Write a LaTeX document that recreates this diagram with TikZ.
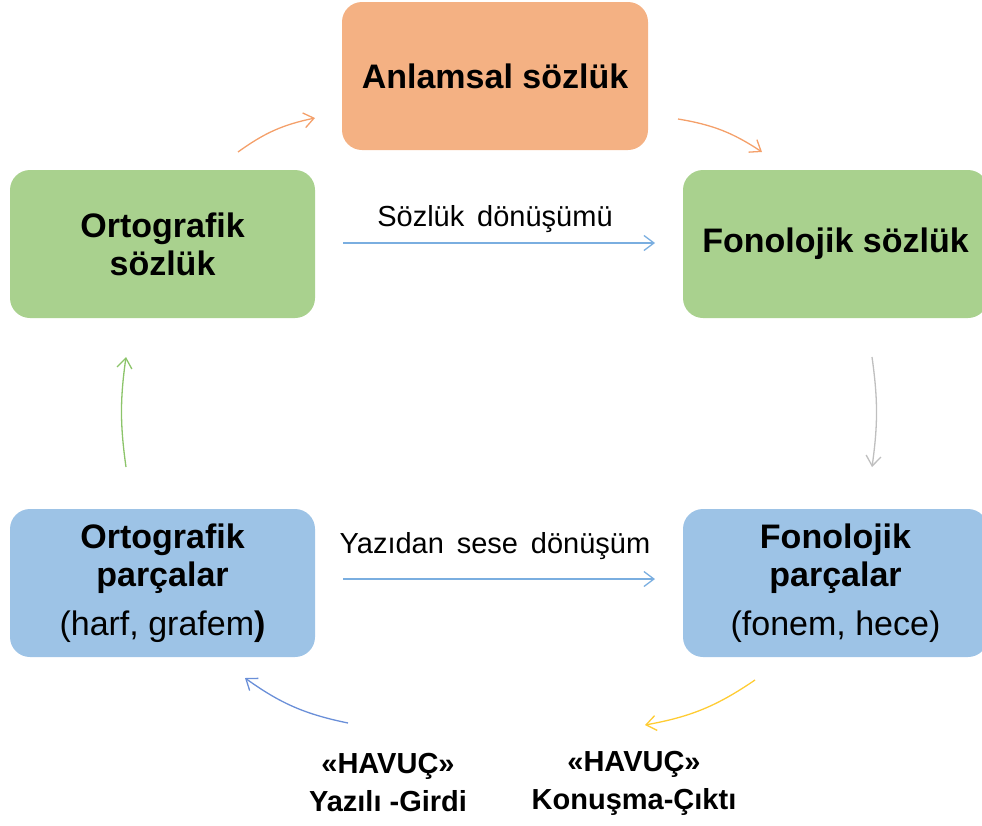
\documentclass[tikz,border=0pt]{standalone}
\usepackage{fontspec}
\setmainfont{Liberation Sans}
\usetikzlibrary{arrows.meta}
\definecolor{boxorange}{HTML}{F4B183}
\definecolor{boxgreen}{HTML}{A9D18E}
\definecolor{boxblue}{HTML}{9DC3E6}
\definecolor{arrorange}{HTML}{F4A06A}
\definecolor{arrlblue}{HTML}{7AAEE0}
\definecolor{arrgray}{HTML}{BFBFBF}
\definecolor{arrgreen}{HTML}{8CC46A}
\definecolor{arryellow}{HTML}{FFCC33}
\definecolor{arrdblue}{HTML}{6A8FD8}
\tikzset{
  box/.style={rectangle, rounded corners=20pt, minimum width=305pt, minimum height=148pt,
    align=center, inner sep=0pt, font=\fontsize{34}{38}\selectfont},
  conn/.style={line width=1.3pt, -{Straight Barb[length=10pt,width=15pt,line width=1.3pt]}},
  lab/.style={font=\fontsize{29}{34}\selectfont, inner sep=0pt},
  bot/.style={font=\fontsize{29}{38}\selectfont\bfseries, align=center, inner sep=0pt}
}
\begin{document}
\begin{tikzpicture}[x=1pt,y=-1pt]
\useasboundingbox (0,0) rectangle (982,825);
\clip (0,0) rectangle (982,825);
\node[box, fill=boxorange, minimum width=306pt] (anl) at (495,76) {\bfseries Anlamsal sözlük};
\node[box, fill=boxgreen] (os) at (162.5,244) {\bfseries Ortografik\\\bfseries sözlük};
\node[box, fill=boxgreen] (fs) at (835.5,244) {\bfseries Fonolojik sözlük};
\node[box, fill=boxblue] (op) at (162.5,583) {\bfseries Ortografik\\\bfseries parçalar\\[11pt](harf, grafem\textbf{)}};
\node[box, fill=boxblue] (fp) at (835.5,583) {\bfseries Fonolojik\\\bfseries parçalar\\[11pt](fonem, hece)};

\coordinate (a1s) at (238,152); \coordinate (a1e) at (315,118);
\coordinate (a2s) at (678,119); \coordinate (a2e) at (762,152);
\coordinate (a3s) at (872,357); \coordinate (a3e) at (872,467);
\coordinate (a4s) at (126,467); \coordinate (a4e) at (126,357);
\coordinate (a5s) at (755,680); \coordinate (a5e) at (645,725);
\coordinate (a6s) at (348,723); \coordinate (a6e) at (245,678);
\coordinate (h1s) at (343,243); \coordinate (h1e) at (655,243);
\coordinate (h2s) at (343,579); \coordinate (h2e) at (655,579);

\draw[conn, arrorange] (a1s) to[bend left=12] (a1e);
\draw[conn, arrorange] (a2s) to[bend left=12] (a2e);
\draw[conn, arrgray] (a3s) to[bend left=8] (a3e);
\draw[conn, arrgreen] (a4s) to[bend left=8] (a4e);
\draw[conn, arryellow] (a5s) to[bend left=12] (a5e);
\draw[conn, arrdblue] (a6s) to[bend left=12] (a6e);
\draw[conn, arrlblue] (h1s) -- (h1e);
\draw[conn, arrlblue] (h2s) -- (h2e);

\node[lab] (l1) at (495,219) {Sözlük\, dönüşümü};
\node[lab] (l2) at (495,546) {Yazıdan\, sese\, dönüşüm};
\node[bot] (b1) at (388,783) {«HAVUÇ»\\Yazılı -Girdi};
\node[bot] (b2) at (634,783) {«HAVUÇ»\\Konuşma-Çıktı};
\end{tikzpicture}
\end{document}
